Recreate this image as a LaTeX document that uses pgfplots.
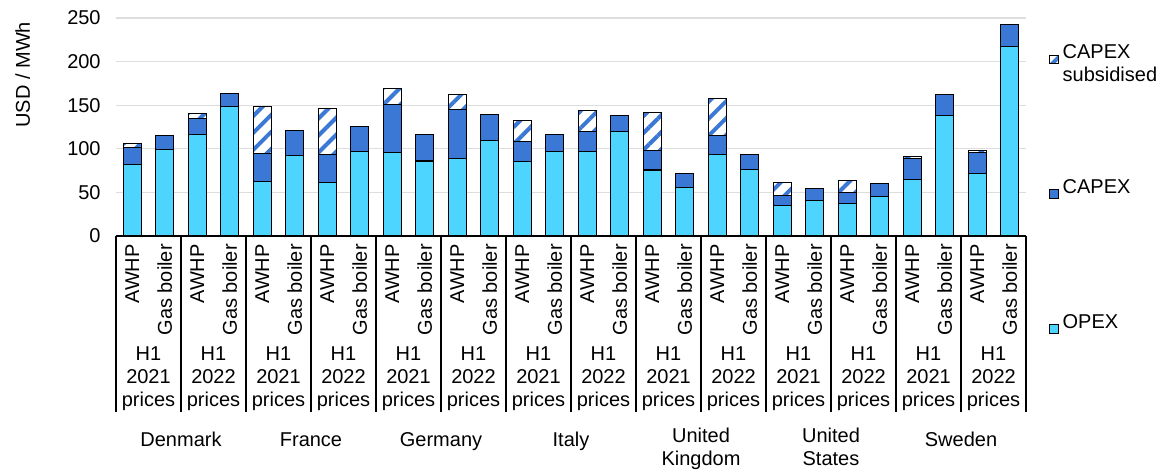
\documentclass[border=0pt]{standalone}
\usepackage{fontspec}
\setmainfont{Liberation Sans}
\usepackage{pgfplots}
\usepackage{pgfplotstable}
\pgfplotsset{compat=1.18}
\usetikzlibrary{patterns.meta}
\definecolor{opexc}{RGB}{77,212,255}
\definecolor{capexc}{RGB}{59,120,214}
\pgfplotstableread{
x opex capex sub
0 82 19 5
1 99.5 15.5 0
2 116 19 5
3 148.6 14.6 0
4 62 32.5 53.5
5 92.5 28.5 0
6 61 32 53.7
7 97 29 0
8 95.6 55.4 18
9 86 30 0
10 88.7 56.1 18
11 109.8 29.6 0
12 85.3 23.4 23.3
13 97 19 0
14 96.8 23 23.8
15 119.8 18.2 0
16 75.7 21.9 44.1
17 55.7 16.3 0
18 93 21.8 43.2
19 76.4 16.9 0
20 35 11.5 14.5
21 40.3 13.7 0
22 37.6 11.9 13.9
23 45.7 14.3 0
24 64.5 24.2 2.3
25 138 24.4 0
26 71.8 23.5 2.7
27 217.4 25.6 0
}\datatable
\begin{document}
\begin{tikzpicture}[font=\fontsize{15pt}{17.25pt}\selectfont]
\useasboundingbox (-87pt,-176.25pt) rectangle (785.25pt,177pt);
\begin{axis}[at={(0,0)}, anchor=south west, scale only axis,
  width=682.5pt, height=163.5pt,
  ybar stacked, bar width=13.5pt,
  xmin=-0.5, xmax=27.5, ymin=0, ymax=250,
  ytick={0,50,...,250}, xtick=\empty,
  ymajorgrids, grid style={black!13, line width=1pt},
  axis x line*=bottom, axis y line*=left,
  y axis line style={draw=none},
  x axis line style={black, line width=1.2pt},
  major tick length=0pt,
  /pgf/number format/assume math mode=true,
  tick label style={font=\fontsize{15pt}{18pt}\selectfont},
  yticklabel style={xshift=-8pt},
  ylabel={USD / MWh},
  every axis y label/.style={at={(rel axis cs:0,0.74)}, xshift=-70pt, rotate=90, anchor=center, font=\fontsize{15pt}{18pt}\selectfont},
  clip=false,
  reverse legend,
  legend cell align=left,
  legend image code/.code={\draw[#1] (0pt,0.5pt) rectangle (6.5pt,7pt);},
  legend style={at={(rel axis cs:1,1)}, anchor=north west, xshift=14pt, yshift=-17pt,
    draw=none, fill=none, row sep=69.8pt, column sep=2pt,
    nodes={align=left, inner sep=1pt},
    font=\fontsize{15pt}{17.25pt}\selectfont},
]
\addplot[fill=opexc, draw=black, line width=0.8pt] table[x=x, y=opex] {\datatable};
\addplot[fill=capexc, draw=black, line width=0.8pt] table[x=x, y=capex] {\datatable};
\addplot[fill=white, draw=black, line width=0.8pt,
  postaction={pattern={Lines[angle=45,distance=9pt,line width=3pt]}, pattern color=capexc}]
  table[x=x, y=sub] {\datatable};
\legend{OPEX\\\phantom{subsidised}, CAPEX\\\phantom{subsidised}, CAPEX\\subsidised}
\pgfplotsinvokeforeach{0,...,13}{
  \node[rotate=90, anchor=east, inner sep=0pt] at ([yshift=-6pt]axis cs:{2*#1},0) {AWHP};
  \node[rotate=90, anchor=east, inner sep=0pt] at ([yshift=-6pt]axis cs:{2*#1+1},0) {Gas boiler};
  \node[anchor=north, align=center, inner sep=0pt] at ([yshift=-83pt]axis cs:{2*#1+0.5},0) {H1\\\ifodd#1 2022\else 2021\fi\\prices};
  \draw[line width=0.8pt] (axis cs:{2*#1-0.5},0) -- ++(0pt,-132pt);
}
\draw[line width=0.8pt] (axis cs:27.5,0) -- ++(0pt,-132pt);
\node[anchor=north, align=center, inner sep=0pt] at ([yshift=-147pt]axis cs:1.5,0) {Denmark};
\node[anchor=north, align=center, inner sep=0pt] at ([yshift=-147pt]axis cs:5.5,0) {France};
\node[anchor=north, align=center, inner sep=0pt] at ([yshift=-147pt]axis cs:9.5,0) {Germany};
\node[anchor=north, align=center, inner sep=0pt] at ([yshift=-147pt]axis cs:13.5,0) {Italy};
\node[anchor=north, align=center, inner sep=0pt] at ([yshift=-144pt]axis cs:17.5,0) {United\\Kingdom};
\node[anchor=north, align=center, inner sep=0pt] at ([yshift=-144pt]axis cs:21.5,0) {United\\States};
\node[anchor=north, align=center, inner sep=0pt] at ([yshift=-147pt]axis cs:25.5,0) {Sweden};
\end{axis}
\end{tikzpicture}
\end{document}
